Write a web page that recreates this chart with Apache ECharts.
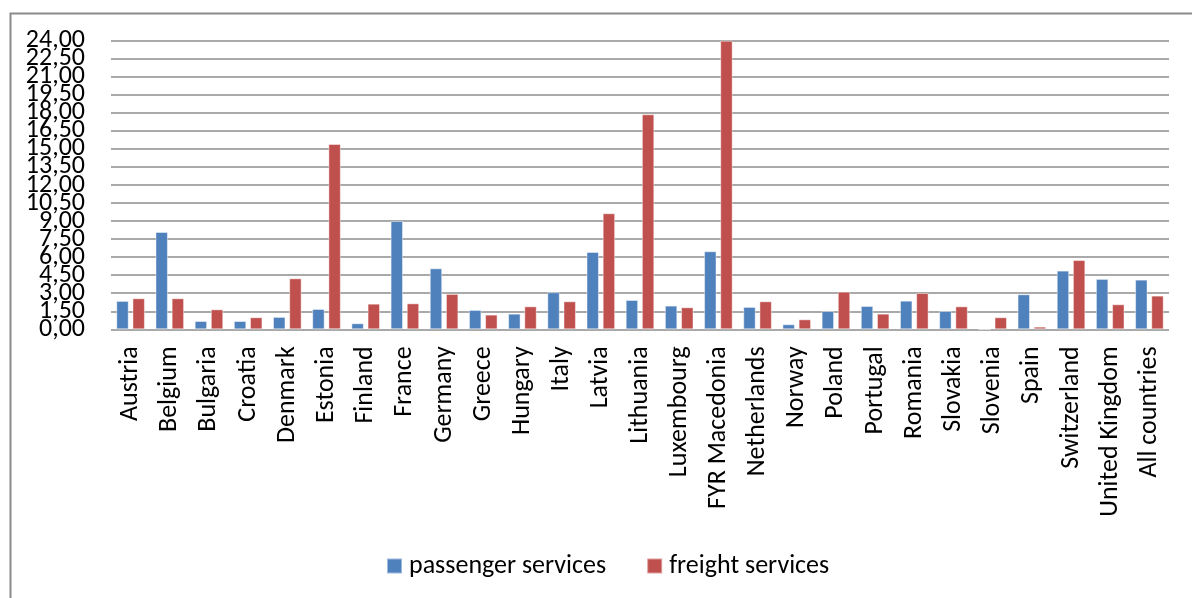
<!DOCTYPE html>
<html>
<head>
<meta charset="utf-8">
<script src="https://cdn.jsdelivr.net/npm/echarts@6/dist/echarts.min.js"></script>
<style>
html,body{margin:0;padding:0;background:#fff;}
#c{width:1192px;height:598px;}
</style>
</head>
<body>
<div id="c"></div>
<script>
const categories = ["Austria","Belgium","Bulgaria","Croatia","Denmark","Estonia","Finland","France","Germany","Greece","Hungary","Italy","Latvia","Lithuania","Luxembourg","FYR Macedonia","Netherlands","Norway","Poland","Portugal","Romania","Slovakia","Slovenia","Spain","Switzerland","United Kingdom","All countries"];
const passenger = [2.36,8.09,0.69,0.69,1.03,1.69,0.50,9.00,5.07,1.61,1.30,3.08,6.43,2.44,1.97,6.49,1.86,0.42,1.52,1.94,2.38,1.52,0.00,2.91,4.88,4.19,4.13];
const freight = [2.58,2.58,1.66,1.00,4.24,15.41,2.13,2.16,2.94,1.22,1.91,2.33,9.65,17.88,1.83,24.00,2.33,0.83,3.13,1.30,3.02,1.91,1.00,0.22,5.76,2.08,2.80];
const yMin = 0, yMax = 24, yStep = 1.5;

const FONT = "Carlito, 'Open Sans', sans-serif";
const fmt = v => v.toFixed(2).replace('.', ',');
const yLabel = {fontFamily:FONT, fontSize:26, color:'#000', margin:26, formatter:fmt};
const chart = echarts.init(document.getElementById('c'), null, {renderer:'canvas'});
chart.setOption({
  animation:false,
  backgroundColor:'#ffffff',
  graphic:[{
    type:'rect', left:8, top:11, silent:true,
    shape:{x:0,y:0,width:1200,height:620},
    style:{fill:'none', stroke:'#8a8a8a', lineWidth:2}
  }],
  grid:{left:111, right:23, top:40.7, bottom:268.7, containLabel:false},
  legend:{
    data:['passenger services','freight services'],
    left:381, top:548,
    itemWidth:15, itemHeight:15, itemGap:40,
    icon:'rect',
    textStyle:{fontFamily:FONT, fontSize:26, color:'#000', padding:[0,0,0,2]}
  },
  xAxis:{
    type:'category', data:categories,
    axisLine:{show:false}, axisTick:{show:false},
    axisLabel:{rotate:90, fontFamily:FONT, fontSize:26, color:'#000', margin:17, interval:0}
  },
  yAxis:[{
    type:'value', min:yMin, max:yMax, interval:yStep, position:'left',
    axisLine:{show:false}, axisTick:{show:false},
    splitLine:{lineStyle:{color:'#8c8c8c', width:1.5}},
    axisLabel:Object.assign({showMinLabel:false, showMaxLabel:false}, yLabel)
  },{
    type:'value', min:yMin, max:yMax, interval:yMax - yMin, position:'left', offset:0,
    axisLine:{show:false}, axisTick:{show:false}, splitLine:{show:false},
    axisLabel:Object.assign({showMinLabel:true, showMaxLabel:true}, yLabel)
  }],
  series:[
    {name:'passenger services', type:'bar', data:passenger, barGap:'30%', barCategoryGap:'27%',
     itemStyle:{color:'#4F81BD', borderColor:'rgba(255,255,255,0.45)', borderWidth:1}},
    {name:'freight services', type:'bar', data:freight,
     itemStyle:{color:'#C0504D', borderColor:'rgba(255,255,255,0.45)', borderWidth:1}}
  ]
});
</script>
</body>
</html>
